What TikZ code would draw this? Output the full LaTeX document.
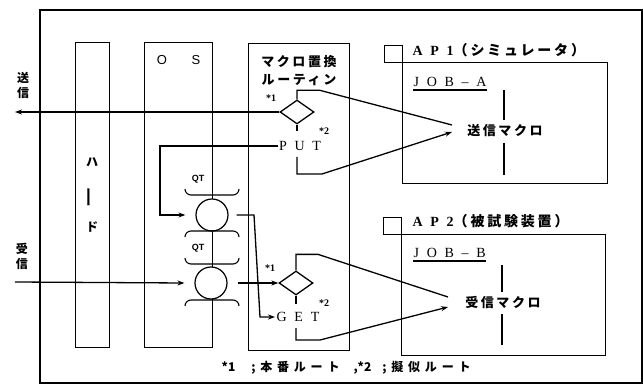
\documentclass[tikz,border=0pt]{standalone}
\usepackage{fontspec}
\setmainfont{Liberation Serif}
\newfontfamily\jpw[LetterSpace=20]{Noto Sans CJK JP}
\newfontfamily\jpf[LetterSpace=40]{Noto Sans CJK JP}
\newfontfamily\jpn{Noto Sans CJK JP}
\newfontfamily\latw[LetterSpace=55]{Liberation Serif}
\newfontfamily\sanf{Liberation Sans}
\usetikzlibrary{shapes.geometric,arrows.meta}
\begin{document}
\begin{tikzpicture}[x=1pt,y=-1pt,line width=1.3pt,
  box/.style={draw,line width=1.3pt,inner sep=0pt,anchor=north west},
  frm/.style={draw,line width=1.8pt,inner sep=0pt,anchor=north west},
  arr/.style={-{Stealth[length=7pt,width=5pt]}},
  dia/.style={draw,diamond,minimum width=34pt,minimum height=24pt,inner sep=0pt,fill=white,line width=1.3pt},
  que/.style={draw,circle,minimum size=32pt,inner sep=0pt,fill=white,line width=1.2pt},
  jt/.style={font=\jpw\bfseries\fontsize{13}{13}\selectfont,inner sep=0pt},
  jv/.style={font=\jpn\bfseries\fontsize{12}{15}\selectfont,inner sep=0pt,align=center},
  lt/.style={font=\latw\fontsize{14}{14}\selectfont,inner sep=0pt},
  st/.style={font=\sanf\bfseries\fontsize{9}{9}\selectfont,inner sep=0pt},
  mk/.style={font=\bfseries\fontsize{10}{10}\selectfont,inner sep=0pt},
  brkup/.pic={\draw[line width=1.1pt] (-27,-6) to[out=-90,in=180] (-21,0) -- (21,0) to[out=0,in=-90] (27,-6);},
  brkdn/.pic={\draw[line width=1.1pt] (-27,6) to[out=90,in=180] (-21,0) -- (21,0) to[out=0,in=90] (27,6);}
]
\useasboundingbox (0,0) rectangle (643,385);
% frame and columns
\node[frm,minimum width=602pt,minimum height=373pt] (frame) at (39,9) {};
\node[box,minimum width=34pt,minimum height=305pt] (hard) at (75,42) {};
\node[box,minimum width=68pt,minimum height=305pt] (os) at (144,42) {};
\node[box,minimum width=101pt,minimum height=307pt] (macro) at (248,43) {};
% AP boxes
\node[box,minimum width=18pt,minimum height=17pt] (sq1) at (384,45) {};
\node[box,minimum width=205pt,minimum height=121pt] (ap1) at (402,62) {};
\node[box,minimum width=18pt,minimum height=17pt] (sq2) at (383,217) {};
\node[box,minimum width=204pt,minimum height=121pt] (ap2) at (401,234) {};
% texts
\node[jv] (sendlbl) at (23,85) {送\\信};
\node[jv] (recvlbl) at (22,256) {受\\信};
\node[jv] (ha) at (92,162) {ハ};
\node[inner sep=0pt,rotate=90,xscale=1.7,font=\jpn\bfseries\fontsize{12}{12}\selectfont] (bar) at (91,197) {ー};
\node[jv] (do) at (92,227) {ド};
\node[font=\sanf\fontsize{13}{13}\selectfont,inner sep=0pt] (oo) at (162,60) {O};
\node[font=\sanf\fontsize{13}{13}\selectfont,inner sep=0pt] (ss) at (196,60) {S};
\node[jt] (mac1) at (299,62) {マクロ置換};
\node[jt] (mac2) at (299,80) {ルーティン};
\node[anchor=west,inner sep=0pt,font=\bfseries\fontsize{14}{14}\selectfont] (ap1t) at (412,50) {{\latw AP1}{\jpw（シミュレータ）}};
\node[anchor=west,inner sep=0pt,font=\bfseries\fontsize{14}{14}\selectfont] (ap2t) at (412,221) {{\latw AP2}{\jpw（被試験装置）}};
\node[lt,anchor=west] (joba) at (413,82) {JOB–A};
\node[lt,anchor=west] (jobb) at (413,253) {JOB–B};
\draw ([yshift=-2.5pt]joba.south west) -- ([yshift=-2.5pt]joba.south east);
\draw ([yshift=-2.5pt]jobb.south west) -- ([yshift=-2.5pt]jobb.south east);
\node[jt] (smac) at (505,131) {送信マクロ};
\node[jt] (rmac) at (503,303) {受信マクロ};
\draw (504,90) -- (504,120);
\draw (504,143) -- (504,175);
\draw (502,265) -- (502,292);
\draw (502,314) -- (502,345);
% queues
\node[que] (C1) at (212,215) {};
\node[que] (C2) at (211,283) {};
\pic at (212,195) {brkup};
\pic at (212,231) {brkdn};
\pic at (212,264) {brkup};
\pic at (212,300) {brkdn};
\node[st] (qt1) at (198,179) {QT};
\node[st] (qt2) at (198,248) {QT};
% diamonds and PUT/GET
\node[dia] (D1) at (297,112) {};
\node[dia] (D2) at (296,283) {};
\node[lt] (put) at (300,146) {PUT};
\node[lt] (get) at (298,317) {GET};
\node[mk] (m11) at (271,98) {*1};
\node[mk] (m12) at (324,131) {*2};
\node[mk] (m21) at (270,268) {*1};
\node[mk] (m22) at (324,303) {*2};
% footnote
\node[anchor=west,inner sep=0pt,font=\jpf\bfseries\fontsize{12}{12}\selectfont] (note) at (221,368) {{\jpn *1}\hspace{16pt};本番ルート\hspace{14pt},{\jpn *2}\hspace{11pt};擬似ルート};
% connectors
\coordinate (sendend) at (15,112);
\coordinate (recvstart) at (15,282);
\draw[arr] (D1.west) -- (sendend);
\draw[arr] (recvstart) -- ([xshift=-10pt]C2.west);
\draw[arr] (put.west) -- (160,146) -- (160,215) -- ([xshift=-10pt]C1.west);
\coordinate (k1) at (254,215);
\coordinate (k2) at (260,317);
\draw[arr] ([xshift=8pt]C1.east) -- (k1) -- (k2) -- ([xshift=-1pt]get.west);
\draw[arr] ([xshift=10pt]C2.east) -- (D2.west);
\draw (D1.south) -- ++(0,6);
\draw (D2.south) -- ++(0,8);
\coordinate (t1) at (452,125);
\coordinate (t2) at (452,132);
\coordinate (t3) at (448,297);
\coordinate (t4) at (448,307);
\draw (D1.north) -- ++(0,-9) -- ++(23,0) -- (t1);
\draw[arr] (297,157) -- (297,174) -- (322,174) -- (t2);
\draw (D2.north) -- ++(0,-16) -- ++(22,0) -- (t3);
\draw[arr] (296,328) -- (296,340) -- (320,340) -- (t4);
\end{tikzpicture}
\end{document}
